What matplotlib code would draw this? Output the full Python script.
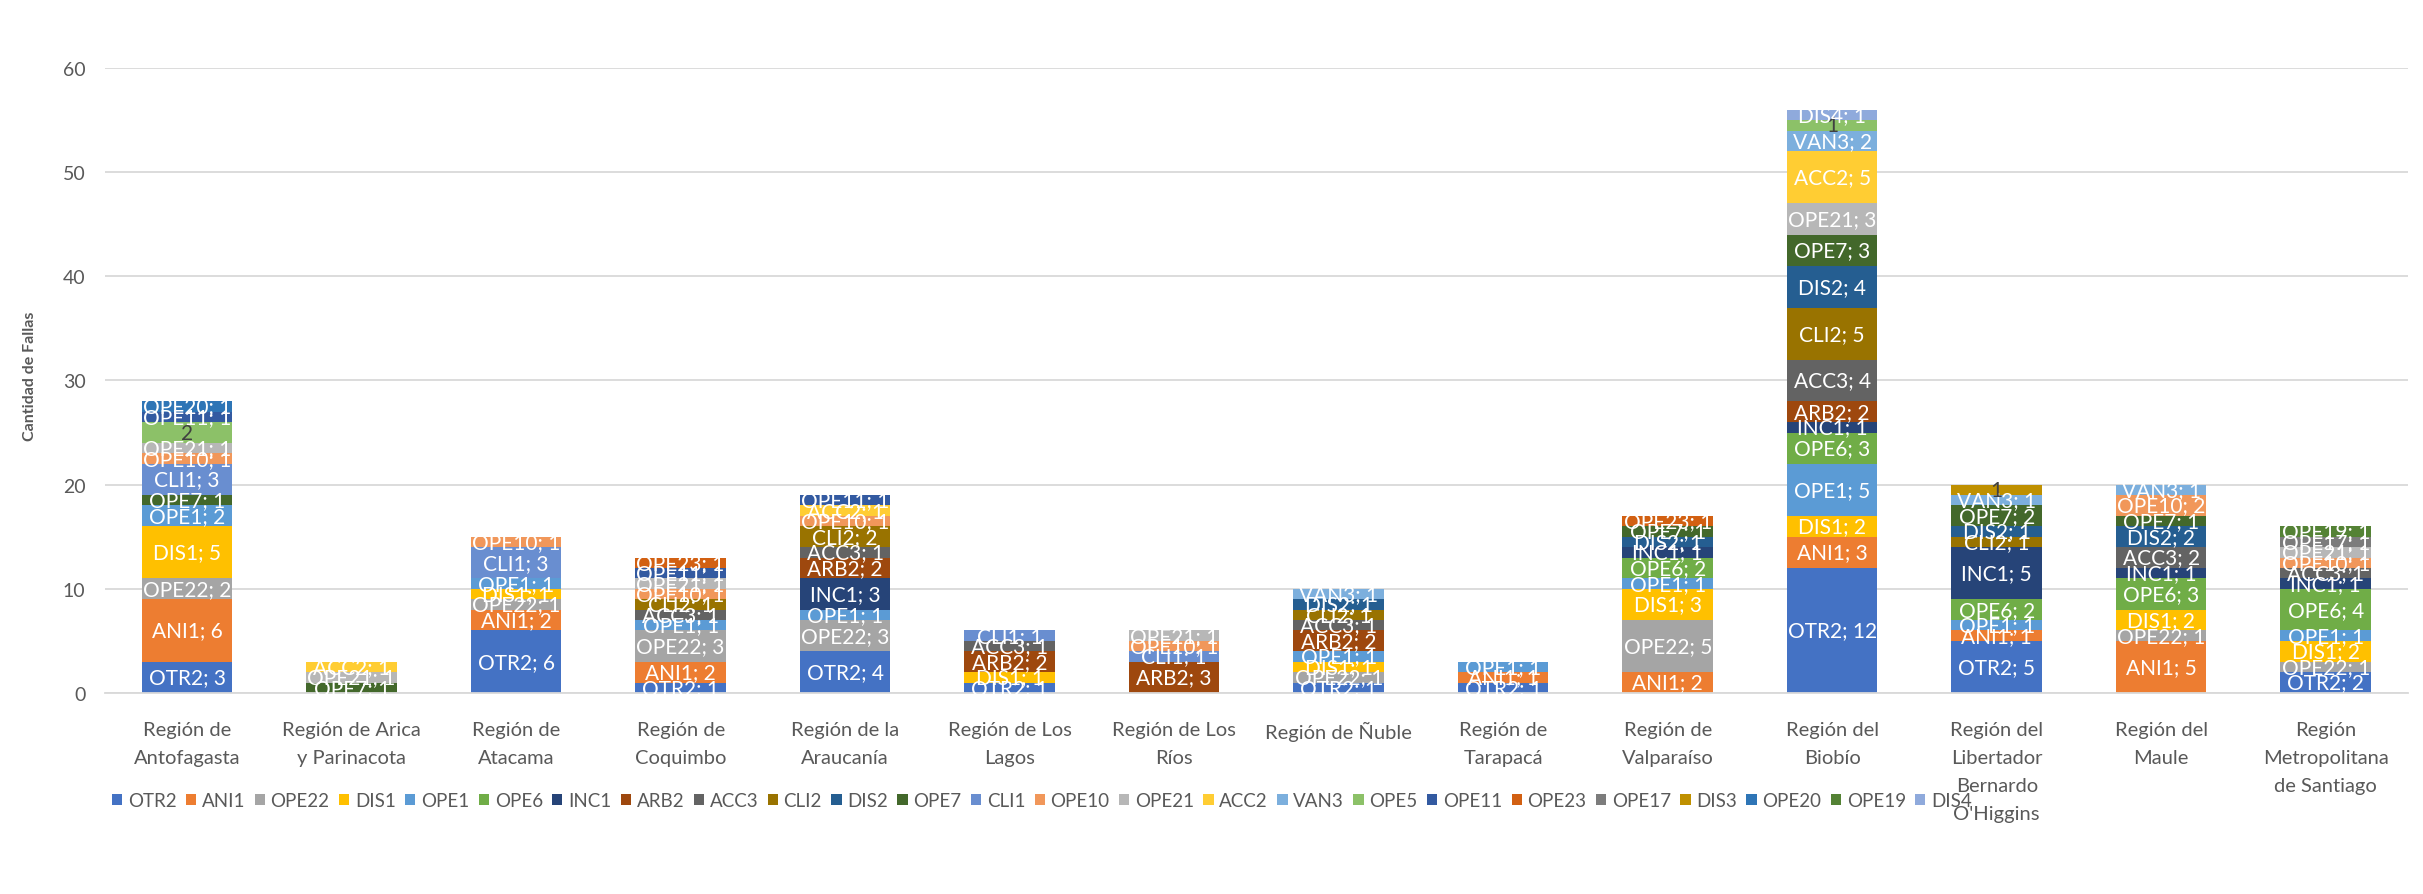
import numpy as np
import matplotlib
matplotlib.use("Agg")
import matplotlib.pyplot as plt
from matplotlib.patches import Patch

plt.rcParams['font.family'] = ['Lato', 'DejaVu Sans']

# regions (x categories)
regions = ["Región de\nAntofagasta", "Región de Arica\ny Parinacota", "Región de\nAtacama",
           "Región de\nCoquimbo", "Región de la\nAraucanía", "Región de Los\nLagos",
           "Región de Los\nRíos", "Región de Ñuble", "Región de\nTarapacá",
           "Región de\nValparaíso", "Región del\nBiobío",
           "Región del\nLibertador\nBernardo\nO'Higgins", "Región del\nMaule",
           "Región\nMetropolitana\nde Santiago"]

# failure counts per code, one value per region (same order as regions)
OTR2 = [3, 0, 6, 1, 4, 1, 0, 1, 1, 0, 12, 5, 0, 2]
ANI1 = [6, 0, 2, 2, 0, 0, 0, 0, 1, 2, 3, 1, 5, 0]
OPE22 = [2, 0, 1, 3, 3, 0, 0, 1, 0, 5, 0, 0, 1, 1]
DIS1 = [5, 0, 1, 0, 0, 1, 0, 1, 0, 3, 2, 0, 2, 2]
OPE1 = [2, 0, 1, 1, 1, 0, 0, 1, 1, 1, 5, 1, 0, 1]
OPE6 = [0, 0, 0, 0, 0, 0, 0, 0, 0, 2, 3, 2, 3, 4]
INC1 = [0, 0, 0, 0, 3, 0, 0, 0, 0, 1, 1, 5, 1, 1]
ARB2 = [0, 0, 0, 0, 2, 2, 3, 2, 0, 0, 2, 0, 0, 0]
ACC3 = [0, 0, 0, 1, 1, 1, 0, 1, 0, 0, 4, 0, 2, 1]
CLI2 = [0, 0, 0, 1, 2, 0, 0, 1, 0, 0, 5, 1, 0, 0]
DIS2 = [0, 0, 0, 0, 0, 0, 0, 1, 0, 1, 4, 1, 2, 0]
OPE7 = [1, 1, 0, 0, 0, 0, 0, 0, 0, 1, 3, 2, 1, 0]
CLI1 = [3, 0, 3, 0, 0, 1, 1, 0, 0, 0, 0, 0, 0, 0]
OPE10 = [1, 0, 1, 1, 1, 0, 1, 0, 0, 0, 0, 0, 2, 1]
OPE21 = [1, 1, 0, 1, 0, 0, 1, 0, 0, 0, 3, 0, 0, 1]
ACC2 = [0, 1, 0, 0, 1, 0, 0, 0, 0, 0, 5, 0, 0, 0]
VAN3 = [0, 0, 0, 0, 0, 0, 0, 1, 0, 0, 2, 1, 1, 0]
OPE5 = [2, 0, 0, 0, 0, 0, 0, 0, 0, 0, 1, 0, 0, 0]
OPE11 = [1, 0, 0, 1, 1, 0, 0, 0, 0, 0, 0, 0, 0, 0]
OPE23 = [0, 0, 0, 1, 0, 0, 0, 0, 0, 1, 0, 0, 0, 0]
OPE17 = [0, 0, 0, 0, 0, 0, 0, 0, 0, 0, 0, 0, 0, 1]
DIS3 = [0, 0, 0, 0, 0, 0, 0, 0, 0, 0, 0, 1, 0, 0]
OPE20 = [1, 0, 0, 0, 0, 0, 0, 0, 0, 0, 0, 0, 0, 0]
OPE19 = [0, 0, 0, 0, 0, 0, 0, 0, 0, 0, 0, 0, 0, 1]
DIS4 = [0, 0, 0, 0, 0, 0, 0, 0, 0, 0, 1, 0, 0, 0]

series = [("OTR2", OTR2), ("ANI1", ANI1), ("OPE22", OPE22), ("DIS1", DIS1),
          ("OPE1", OPE1), ("OPE6", OPE6), ("INC1", INC1), ("ARB2", ARB2),
          ("ACC3", ACC3), ("CLI2", CLI2), ("DIS2", DIS2), ("OPE7", OPE7),
          ("CLI1", CLI1), ("OPE10", OPE10), ("OPE21", OPE21), ("ACC2", ACC2),
          ("VAN3", VAN3), ("OPE5", OPE5), ("OPE11", OPE11), ("OPE23", OPE23),
          ("OPE17", OPE17), ("DIS3", DIS3), ("OPE20", OPE20), ("OPE19", OPE19),
          ("DIS4", DIS4)]

colors = ["#4472C4", "#ED7D31", "#A5A5A5", "#FFC000", "#5B9BD5", "#70AD47",
          "#264478", "#9E480E", "#636363", "#997300", "#255E91", "#43682B",
          "#698ED0", "#F1975A", "#B7B7B7", "#FFCD33", "#7CAFDD", "#8CC168",
          "#335AA1", "#D26012", "#7C7C7C", "#BF9000", "#2E75B6", "#548235",
          "#8FAADC"]

# these series only show the value, in dark text
value_only = {"OPE5", "DIS3"}

text_color = "#595959"
grid_color = "#D9D9D9"

fig = plt.figure(figsize=(24.23, 8.95), dpi=100)
ax = fig.add_axes([0.0433, 0.2246, 0.9505, 0.6983])

x = np.arange(len(regions))
bottom = np.zeros(len(regions))
handles = []
for (name, vals), col in zip(series, colors):
    vals = np.array(vals, dtype=float)
    ax.bar(x, vals, bottom=bottom, width=0.55, color=col, zorder=2)
    for xi, v, b in zip(x, vals, bottom):
        if v <= 0:
            continue
        if name in value_only:
            ax.text(xi, b + v / 2, f"{int(v)}", ha="center", va="center",
                    fontsize=15, color="#404040", zorder=3)
        else:
            ax.text(xi, b + v / 2, f"{name}; {int(v)}", ha="center", va="center",
                    fontsize=15, color="white", zorder=3)
    bottom += vals
    handles.append(Patch(facecolor=col, label=name))

ax.set_xlim(-0.5, len(regions) - 0.5)
ax.set_ylim(0, 60)
ax.set_yticks(range(0, 61, 10))
ax.yaxis.grid(True, color=grid_color, linewidth=1.3, zorder=0)
ax.set_axisbelow(True)
for s in ["top", "right", "left"]:
    ax.spines[s].set_visible(False)
ax.spines["bottom"].set_color(grid_color)
ax.spines["bottom"].set_linewidth(1.3)
ax.tick_params(axis="both", length=0, colors=text_color, labelsize=14)
ax.tick_params(axis="y", pad=14)
ax.tick_params(axis="x", pad=20)
ax.set_xticks(x)
ax.set_xticklabels(regions, fontsize=14.5, color=text_color, linespacing=1.8)

fig.text(0.0125, 0.58, "Cantidad de Fallas", rotation=90, ha="center", va="center",
         fontsize=11.5, fontweight="bold", color=text_color)

fig.legend(handles=handles, loc="center", bbox_to_anchor=(0.43, 0.104), ncol=25,
           frameon=False, fontsize=13.5, handlelength=0.55, handleheight=0.55,
           handletextpad=0.3, columnspacing=0.5, labelcolor=text_color)

fig.savefig("out.png", dpi=100)
